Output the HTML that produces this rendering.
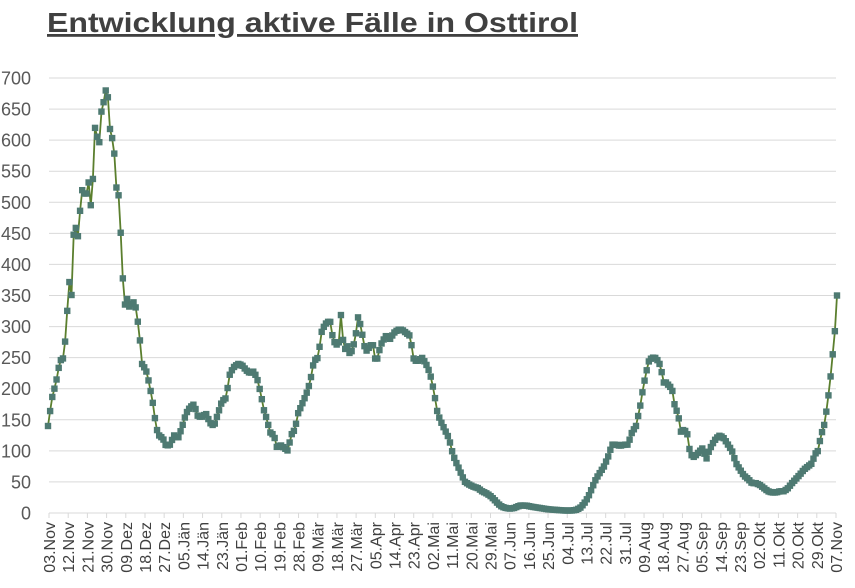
<!DOCTYPE html>
<html><head><meta charset="utf-8"><style>
body{margin:0;background:#fff;width:855px;height:588px;overflow:hidden}
svg{display:block}
</style></head><body>
<svg id="s" width="855" height="588" xmlns="http://www.w3.org/2000/svg" font-family="Liberation Sans, sans-serif">
<text x="47" y="32" font-size="28" font-weight="bold" fill="#404040" textLength="531" lengthAdjust="spacingAndGlyphs" text-decoration="underline">Entwicklung aktive Fälle in Osttirol</text>
<g id="grid"></g><g id="lab"></g><g id="ser"></g>
</svg>
<script>
var NS="http://www.w3.org/2000/svg";
function el(p,t,a,txt){var e=document.createElementNS(NS,t);for(var k in a)e.setAttribute(k,a[k]);if(txt)e.textContent=txt;p.appendChild(e);return e;}
var g=document.getElementById('grid'),L=document.getElementById('lab'),S=document.getElementById('ser');
function Y(v){return 513-v*435/700;}
for(var v=0;v<=700;v+=50){var y=Y(v);
 if(v>0)el(g,'line',{x1:49,x2:836,y1:y,y2:y,stroke:'#d9d9d9','stroke-width':1});
 el(L,'text',{x:31,y:y+6.5,'font-size':18,fill:'#595959','text-anchor':'end'},String(v));}
el(g,'line',{x1:49,x2:836,y1:513,y2:513,stroke:'#d9d9d9','stroke-width':1});
var labs="03.Nov 12.Nov 21.Nov 30.Nov 09.Dez 18.Dez 27.Dez 05.Jän 14.Jän 23.Jän 01.Feb 10.Feb 19.Feb 28.Feb 09.Mär 18.Mär 27.Mär 05.Apr 14.Apr 23.Apr 02.Mai 11.Mai 20.Mai 29.Mai 07.Jun 16.Jun 25.Jun 04.Jul 13.Jul 22.Jul 31.Jul 09.Aug 18.Aug 27.Aug 05.Sep 14.Sep 23.Sep 02.Okt 11.Okt 20.Okt 29.Okt 07.Nov".split(' ');
var step=(836-49)/41;
labs.forEach(function(t,i){var x=49+i*step;
 el(g,'line',{x1:x,x2:x,y1:513,y2:518,stroke:'#d9d9d9'});
 el(L,'text',{transform:'translate('+(x+6)+',522) rotate(-90)','font-size':16,fill:'#404040','text-anchor':'end'},t);});
var k=[48,140,52,185,56,210,60,245,64,250,67,320,70,385,72,340,74,470,78,445,80,485,82,520,86,510,89,535,91,490,93,540,95,620,98,600,100,595,102,665,104,660,106,683,108,668,110,618,112,605,115,570,117,505,119,513,121,440,123,372,125,335,127,345,130,328,132,340,135,338,139,295,142,240,146,230,149,210,152,185,154,165,156,138,159,125,163,120,166,108,170,110,174,125,178,120,182,138,186,160,190,170,194,175,198,155,202,155,206,160,210,145,214,140,218,160,222,180,226,185,230,225,234,235,238,240,242,238,246,230,250,225,254,228,258,212,261,190,264,165,267,150,270,130,274,125,277,105,280,110,284,105,288,100,291,125,295,135,298,160,302,175,306,190,310,210,314,245,318,250,322,295,326,305,330,310,333,280,336,270,339,275,341,320,344,260,347,270,350,255,353,265,356,290,358,315,361,300,364,270,367,260,370,270,373,270,376,240,379,260,382,275,386,285,390,280,394,290,398,295,402,295,406,290,410,285,414,245,418,245,422,250,426,240,430,225,434,195,437,165,440,150,443,140,446,130,449,120,452,100,455,85,458,75,462,60,465,50,470,45,474,42,478,40,482,35,486,32,490,28,494,22,498,15,502,10,506,8,510,7,514,8,520,12,526,12,532,10,540,8,548,6,556,5,564,4,572,4,576,5,580,8,584,15,588,25,592,40,596,55,600,65,604,75,608,90,612,110,616,110,620,108,624,110,628,110,632,130,636,140,640,170,643,200,646,225,649,245,652,250,655,250,658,245,661,235,663,210,666,210,669,205,672,200,675,170,678,160,681,130,684,135,688,125,690,95,694,90,697,95,700,100,703,105,706,85,709,100,712,110,716,120,720,125,724,120,728,110,732,100,736,80,740,70,744,60,748,55,752,48,756,48,760,45,764,40,768,35,772,33,776,33,780,35,784,35,788,40,792,48,796,55,800,62,804,70,808,75,812,80,815,95,818,100,821,125,824,140,827,170,830,210,833,260,835,295,837,350];
function val(x){for(var i=0;i<k.length-2;i+=2){if(x<=k[i+2]){var t=(x-k[i])/(k[i+2]-k[i]);return k[i+1]+t*(k[i+3]-k[i+1]);}}return k[k.length-1];}
var pts=[],d=(836-49)/369;
for(var i=0;i<=369;i++){var x=48+i*d*(789/787);var v=val(x);pts.push([x,Y(v)]);}
el(S,'polyline',{points:pts.map(function(p){return p[0].toFixed(1)+','+p[1].toFixed(1)}).join(' '),fill:'none',stroke:'#5b7f2e','stroke-width':1.8});
pts.forEach(function(p){el(S,'rect',{x:p[0]-3.2,y:p[1]-3.2,width:6.4,height:6.4,fill:'#4e7a72'});});
</script>
</body></html>
